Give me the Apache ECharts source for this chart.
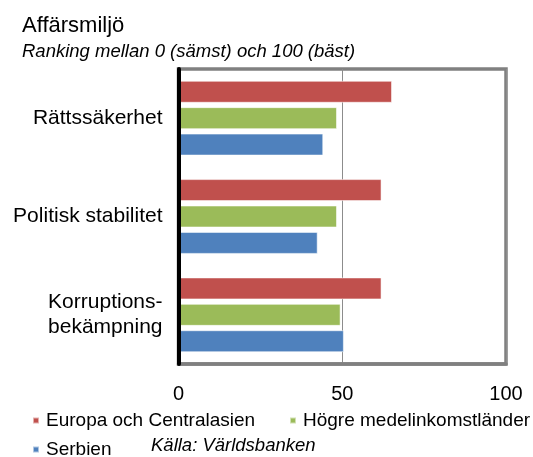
<!DOCTYPE html>
<html>
<head>
<meta charset="utf-8">
<script src="https://cdn.jsdelivr.net/npm/echarts@6/dist/echarts.min.js"></script>
<style>html,body{margin:0;padding:0;background:#fff}#c{width:533px;height:457px}</style>
</head>
<body>
<div id="c"></div>
<script>
const categories = ['Rättssäkerhet', 'Politisk stabilitet', 'Korruptions-\nbekämpning'];
const seriesNames = ['Europa och Centralasien', 'Högre medelinkomstländer', 'Serbien'];
const europa = [65.2, 62.0, 62.0];
const hogre = [48.4, 48.4, 49.5];
const serbien = [44.2, 42.5, 50.5];
const xTicks = [0, 50, 100];

const FONT = '"Liberation Sans", Arial, sans-serif';
const colors = ['#C0504D', '#9BBB59', '#4F81BD'];
const values = [europa, hogre, serbien];
const legendPos = [[32, 411], [289, 411], [32, 440]];

const chart = echarts.init(document.getElementById('c'), null, {renderer: 'canvas'});
chart.setOption({
  animation: false,
  backgroundColor: '#fff',
  title: {
    text: 'Affärsmiljö',
    subtext: 'Ranking mellan 0 (sämst) och 100 (bäst)',
    left: 22, top: 15, padding: 0, itemGap: 5,
    textStyle: {fontFamily: FONT, fontSize: 22, fontWeight: 'normal', color: '#000'},
    subtextStyle: {fontFamily: FONT, fontSize: 18.5, fontStyle: 'italic', color: '#000'}
  },
  legend: seriesNames.map((name, i) => ({
    data: [name],
    left: legendPos[i][0], top: legendPos[i][1], padding: 0,
    itemWidth: 6, itemHeight: 6, icon: 'rect',
    textStyle: {fontFamily: FONT, fontSize: 19, color: '#000', padding: [0, 0, 0, 2]}
  })),
  graphic: [{
    type: 'text', left: 151, top: 436,
    style: {text: 'Källa: Världsbanken', font: 'italic 18.5px ' + FONT, fill: '#000'}
  }],
  grid: {
    left: 178.5, right: 27, top: 69, bottom: 93,
    show: true, borderColor: '#808080', borderWidth: 3.5, backgroundColor: '#fff'
  },
  xAxis: {
    type: 'value', min: 0, max: 100, interval: 50,
    axisLine: {show: true, lineStyle: {color: '#808080', width: 3.5}},
    axisTick: {show: false},
    axisLabel: {
      fontFamily: FONT, fontSize: 20, color: '#000', margin: 20,
      formatter: v => xTicks.includes(v) ? String(v) : ''
    },
    splitLine: {show: true, lineStyle: {color: '#8c8c8c', width: 1}}
  },
  yAxis: {
    type: 'category', data: categories, inverse: true, z: 5,
    axisLine: {show: true, onZero: false, lineStyle: {color: '#000', width: 4}},
    axisTick: {show: false},
    axisLabel: {fontFamily: FONT, fontSize: 21, color: '#000', margin: 16, lineHeight: 25, align: 'right'},
    splitLine: {show: false}
  },
  series: seriesNames.map((name, i) => ({
    name: name, type: 'bar', data: values[i],
    barWidth: 22, barGap: '20%',
    itemStyle: {color: colors[i], borderColor: 'rgba(255,255,255,0.55)', borderWidth: 1}
  }))
});
</script>
</body>
</html>
